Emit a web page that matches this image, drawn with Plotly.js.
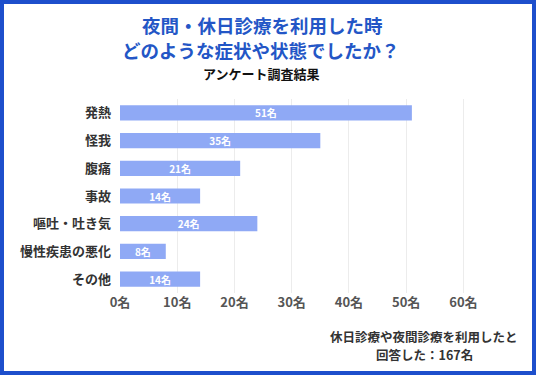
<!DOCTYPE html>
<html><head><meta charset="utf-8">
<script src="https://cdn.plot.ly/plotly-3.0.1.min.js"></script>
<style>
html,body{margin:0;padding:0;background:#fff;}
#wrap{position:relative;width:536px;height:375px;}
#chart{width:536px;height:375px;}
#border{position:absolute;left:0;top:0;width:536px;height:375px;box-sizing:border-box;border:4px solid #1d4fcc;pointer-events:none;}
</style></head>
<body>
<div id="wrap"><div id="chart"></div><div id="border"></div></div>
<script>
const categories = ['発熱','怪我','腹痛','事故','嘔吐・吐き気','慢性疾患の悪化','その他'];
const values = [51, 35, 21, 14, 24, 8, 14];
const tickVals = [0,10,20,30,40,50,60];
const titleLines = ['夜間・休日診療を利用した時','どのような症状や状態でしたか？'];
const subtitle = 'アンケート調査結果';
const footLines = ['休日診療や夜間診療を利用したと','回答した：167名'];

const FONT = '"Noto Sans CJK JP", "Noto Sans", sans-serif';
const trace = {
  type:'bar', orientation:'h',
  y: categories, x: values,
  text: values.map(v => v + '名'),
  textposition:'inside', insidetextanchor:'middle', constraintext:'none',
  textfont:{family:FONT, size:10, color:'#ffffff', weight:700},
  marker:{color:'#8fa9f5'},
  width:0.55,
  hoverinfo:'none'
};
const layout = {
  width:536, height:375,
  margin:{l:120, r:44, t:99, b:82},
  paper_bgcolor:'#fff', plot_bgcolor:'#fff',
  showlegend:false,
  font:{family:FONT},
  uniformtext:{mode:false},
  xaxis:{range:[0,65], tickmode:'array', tickvals:tickVals, ticktext:tickVals.map(v => v + '名'),
         showgrid:true, gridcolor:'#ececec', gridwidth:1,
         zeroline:false, showline:false, ticks:'', ticklen:0,
         tickfont:{family:FONT, size:13, color:'#555555', weight:700}},
  yaxis:{autorange:'reversed', showgrid:false, zeroline:false, showline:false, ticks:'', ticklabelstandoff:8,
         tickfont:{family:FONT, size:13, color:'#333333', weight:700}}
};
const plotW = 536-120-44, plotH = 375-99-82;
function px(x){return (x-120)/plotW;}
function py(y){return (375-82-y)/plotH;}
layout.annotations = [
  {text:titleLines[0], x:px(262), y:py(25), xref:'paper', yref:'paper', showarrow:false, xanchor:'center', yanchor:'middle',
   font:{family:FONT, size:18.5, color:'#2356c6', weight:700}},
  {text:titleLines[1], x:px(261), y:py(50), xref:'paper', yref:'paper', showarrow:false, xanchor:'center', yanchor:'middle',
   font:{family:FONT, size:18.5, color:'#2356c6', weight:700}},
  {text:subtitle, x:px(261), y:py(73), xref:'paper', yref:'paper', showarrow:false, xanchor:'center', yanchor:'middle',
   font:{family:FONT, size:13, color:'#111111', weight:700}},
  {text:footLines[0], x:px(424), y:py(336), xref:'paper', yref:'paper', showarrow:false, xanchor:'center', yanchor:'middle',
   font:{family:FONT, size:12.5, color:'#333333', weight:700}},
  {text:footLines[1], x:px(424), y:py(354), xref:'paper', yref:'paper', showarrow:false, xanchor:'center', yanchor:'middle',
   font:{family:FONT, size:12.5, color:'#333333', weight:700}}
];
Plotly.newPlot('chart',[trace],layout,{displayModeBar:false, staticPlot:true});
</script>
</body></html>
